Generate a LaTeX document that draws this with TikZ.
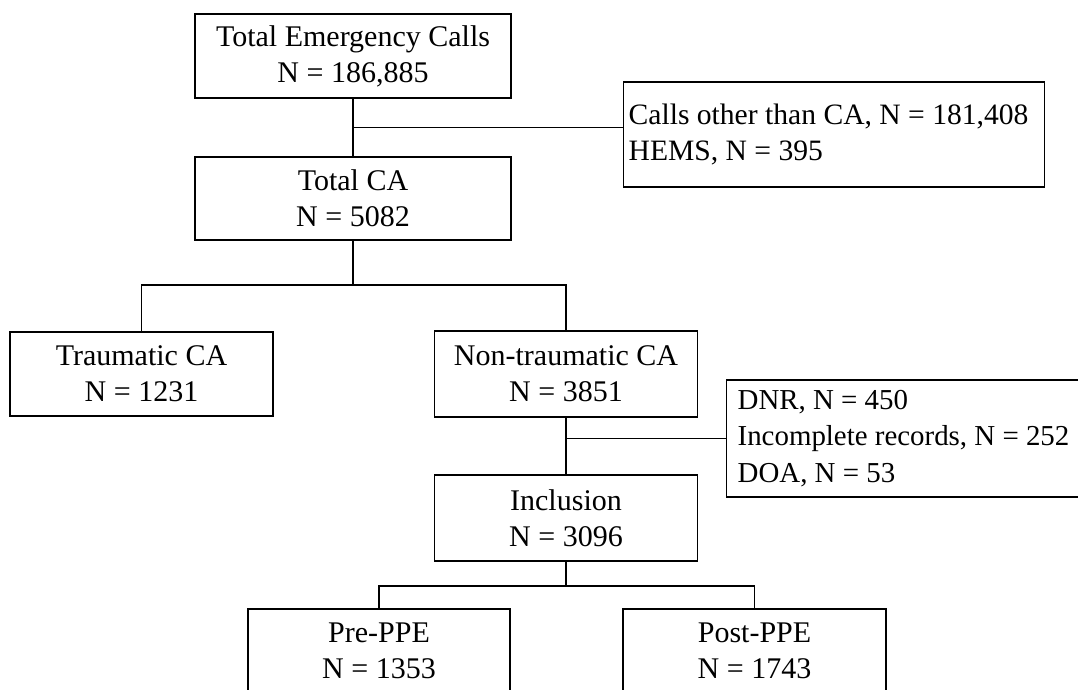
\documentclass[tikz,border=0pt]{standalone}
\usepackage{fontspec}
\setmainfont{Liberation Serif}
\usetikzlibrary{calc}
\begin{document}
\begin{tikzpicture}[x=1pt,y=-1pt,
  txt/.style={font=\fontsize{30}{36}\selectfont},
  box/.style={draw, line width=1.3pt, inner sep=0pt, align=flush center, txt},
  side/.style={draw, line width=1.3pt, anchor=west, align=flush left, inner ysep=0pt},
  conn/.style={line width=1.3pt}]
\clip (0,0) rectangle (1078,690);
% central boxes
\node[box, minimum width=316pt, minimum height=84pt] (b1) at (353,56) {Total Emergency Calls\\N = 186,885};
\node[box, minimum width=316pt, minimum height=83pt] (tca) at (353,198.5) {Total CA\\N = 5082};
\node[box, minimum width=263pt, minimum height=84pt] (trau) at (141.5,374) {Traumatic CA\\N = 1231};
\node[box, minimum width=263pt, minimum height=86pt] (nont) at (566,374) {Non-traumatic CA\\N = 3851};
\node[box, minimum width=263pt, minimum height=86pt] (incl) at (566,518) {Inclusion\\N = 3096};
\node[box, minimum width=262pt, minimum height=84pt] (pre) at (379,651) {Pre-PPE\\N = 1353};
\node[box, minimum width=263pt, minimum height=84pt] (post) at (754.5,651) {Post-PPE\\N = 1743};
% side boxes
\node[side, font=\fontsize{29.6}{36}\selectfont, minimum height=105pt, text width=411pt, inner xsep=5pt] (calls) at (623,134.5) {\mbox{Calls other than CA, N = 181,408}\\HEMS, N = 395};
\node[side, font=\fontsize{28.9}{36.5}\selectfont, minimum height=117pt, text width=440pt, inner xsep=11pt] (dnr) at (726,438.5) {DNR, N = 450\\\mbox{Incomplete records, N = 252}\\DOA, N = 53};
% junctions
\coordinate (m1) at ($(b1.south)!0.5!(tca.north)$);
\coordinate (j1) at (353,285);
\coordinate (j2) at (566,586);
% connectors
\draw[conn] (b1.south) -- (tca.north);
\draw[conn] (m1) -- (m1 -| calls.west);
\draw[conn] (tca.south) -- (j1);
\draw[conn] (trau.north) |- (j1) -| (nont.north);
\draw[conn] (nont.south) -- (incl.north);
\draw[conn] (nont.south |- dnr.west) -- (dnr.west);
\draw[conn] (incl.south) -- (j2);
\draw[conn] (pre.north) |- (j2) -| (post.north);
\end{tikzpicture}
\end{document}
